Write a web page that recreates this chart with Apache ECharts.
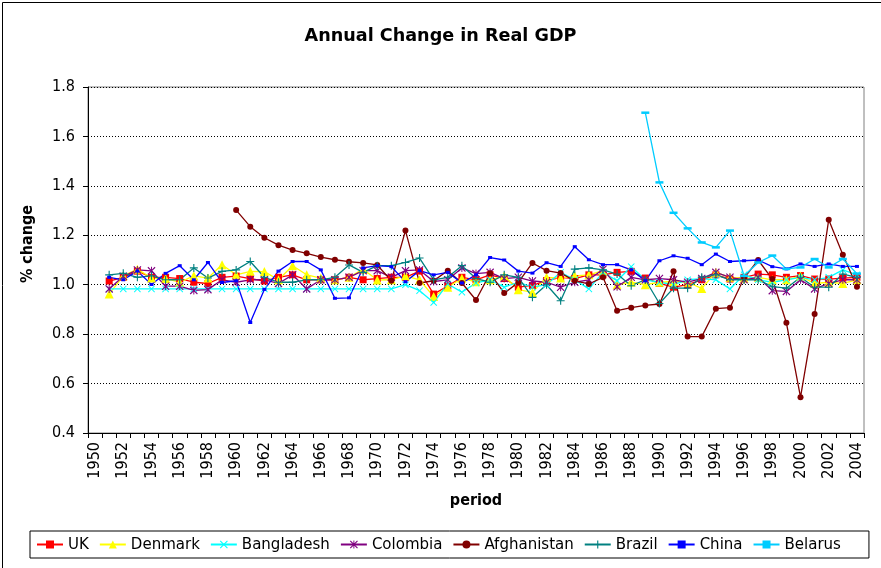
<!DOCTYPE html>
<html><head><meta charset="utf-8">
<script src="https://cdn.jsdelivr.net/npm/echarts@6/dist/echarts.min.js"></script>
<style>html,body{margin:0;padding:0;background:#fff}#c{width:881px;height:568px}</style>
</head><body><div id="c"></div>
<script>
const years = ['1950','1951','1952','1953','1954','1955','1956','1957','1958','1959',
'1960','1961','1962','1963','1964','1965','1966','1967','1968','1969',
'1970','1971','1972','1973','1974','1975','1976','1977','1978','1979',
'1980','1981','1982','1983','1984','1985','1986','1987','1988','1989',
'1990','1991','1992','1993','1994','1995','1996','1997','1998','1999',
'2000','2001','2002','2003','2004'];

const yTicks = { min: 0.4, max: 1.8, interval: 0.2 };

const uk = [null,
1.015,1.03,1.055,1.03,1.03,1.025,1.01,1.005,1.03,
1.035,1.025,1.015,1.03,1.04,1.02,1.02,1.02,1.03,1.02,
1.025,1.03,1.03,1.055,0.962,0.995,1.03,1.02,1.04,1.025,
0.99,0.997,1.017,1.03,1.025,1.04,1.04,1.05,1.054,1.027,
1.005,0.99,1.0,1.02,1.04,1.023,1.03,1.043,1.04,1.03,
1.037,1.023,1.023,1.027,1.03];

const denmark = [null,
0.962,1.036,1.063,1.027,1.025,1.01,1.036,1.027,1.081,
1.04,1.054,1.053,1.02,1.077,1.04,1.027,1.02,1.03,1.063,
1.019,1.02,1.036,1.02,0.952,0.99,1.026,1.012,1.02,1.035,
0.98,0.969,1.03,1.027,1.036,1.04,1.057,1.0,1.01,1.0,
1.01,1.013,1.01,0.985,1.05,1.03,1.026,1.03,1.02,1.02,
1.035,1.005,1.01,1.005,1.02];

const bangladesh = [null,
0.983,0.983,0.983,0.983,0.983,0.983,0.983,0.983,0.983,
0.983,0.983,0.983,0.983,0.983,0.983,0.983,0.983,0.983,0.983,
0.983,0.983,1.0,0.976,0.928,1.003,0.97,1.007,1.02,0.99,
1.01,0.99,1.0,1.05,1.02,0.983,1.05,1.016,1.073,1.02,
1.01,1.0,1.02,1.025,1.02,0.983,1.04,1.02,1.01,1.02,
1.03,1.02,1.03,1.06,1.04];

const colombia = [null,
0.983,1.034,1.06,1.056,0.994,0.994,0.977,0.98,1.02,
1.01,1.02,1.02,1.005,1.04,0.983,1.02,1.02,1.03,1.057,
1.057,1.03,1.057,1.06,1.013,1.02,1.068,1.045,1.05,1.025,
1.03,1.015,1.01,0.99,1.01,1.02,1.063,0.992,1.03,1.02,
1.025,1.02,1.01,1.025,1.05,1.03,1.02,1.03,0.976,0.973,
1.02,0.983,1.005,1.02,1.02];

const afghanistan = [null,null,null,null,null,null,null,null,null,null,
1.302,1.235,1.19,1.16,1.14,1.127,1.112,1.101,1.093,1.088,
1.08,1.016,1.219,1.007,1.016,1.057,1.007,0.938,1.046,0.966,
1.009,1.088,1.057,1.047,1.016,1.003,1.03,0.895,0.907,0.916,
0.922,1.054,0.79,0.79,0.903,0.907,1.027,1.1,1.023,0.846,
0.545,0.881,1.263,1.121,0.992];

const brazil = [null,
1.04,1.046,1.03,1.036,1.02,1.02,1.068,1.027,1.054,
1.06,1.094,1.03,1.01,1.01,1.02,1.02,1.03,1.08,1.05,
1.077,1.077,1.09,1.108,1.02,1.03,1.077,1.025,1.01,1.04,
1.03,0.949,1.0,0.935,1.063,1.068,1.06,1.043,0.996,1.02,
0.924,0.986,0.986,1.03,1.04,1.02,1.02,1.02,0.992,0.986,
1.03,0.99,0.99,1.043,1.03];

const china = [null,
1.03,1.02,1.055,1.001,1.046,1.077,1.02,1.09,1.009,
1.016,0.847,0.981,1.055,1.094,1.094,1.06,0.945,0.947,1.068,
1.077,1.073,1.012,1.057,1.04,1.05,1.007,1.04,1.11,1.10,
1.055,1.047,1.089,1.074,1.154,1.101,1.081,1.081,1.06,1.016,
1.097,1.117,1.107,1.081,1.124,1.094,1.097,1.1,1.073,1.064,
1.084,1.074,1.084,1.074,1.074];

const belarus = [null,null,null,null,null,null,null,null,null,null,
null,null,null,null,null,null,null,null,null,null,
null,null,null,null,null,null,null,null,null,null,
null,null,null,null,null,null,null,null,null,1.696,
1.414,1.291,1.228,1.171,1.151,1.219,1.036,1.09,1.118,1.064,
1.07,1.104,1.07,1.104,1.045];

const FONT = 'DejaVu Sans Condensed, DejaVu Sans, sans-serif';
const X_PATH = 'path://M0,1L1,0L5,4L9,0L10,1L6,5L10,9L9,10L5,6L1,10L0,9L4,5Z';
const PLUS_PATH = 'path://M4.3,0H5.7V4.3H10V5.7H5.7V10H4.3V5.7H0V4.3H4.3Z';
const STAR_PATH = 'path://M0,1L1,0L5,4L9,0L10,1L6,5L10,9L9,10L5,6L1,10L0,9L4,5ZM4.4,0H5.6V10H4.4Z';

function mk(name, data, color, symbol, size) {
  return {
    name, type: 'line', data, connectNulls: false,
    symbol, symbolSize: size, showSymbol: true,
    lineStyle: { color, width: 1.3 },
    itemStyle: { color, borderWidth: 0 },
    emphasis: { disabled: true },
    animation: false, z: 3
  };
}

const chart = echarts.init(document.getElementById('c'), null, { renderer: 'canvas' });
chart.setOption({
  animation: false,
  backgroundColor: '#fff',
  title: {
    text: 'Annual Change in Real GDP', left: 'center', top: 22,
    textStyle: { fontFamily: 'DejaVu Sans, sans-serif', fontWeight: 'bold', fontSize: 17.6, color: '#000' }
  },
  grid: { left: 88, right: 17, top: 87, bottom: 135, show: true, borderColor: '#808080', borderWidth: 1, backgroundColor: '#fff' },
  legend: {
    left: 30, top: 531, padding: [5, 28, 5, 6],
    borderColor: '#000', borderWidth: 1,
    itemWidth: 26, itemHeight: 10, itemGap: 10,
    textStyle: { fontFamily: FONT, fontSize: 16.7, color: '#000' },
    data: ['UK','Denmark','Bangladesh','Colombia','Afghanistan','Brazil','China','Belarus']
  },
  xAxis: {
    type: 'category', data: years, boundaryGap: true,
    name: 'period', nameLocation: 'middle', nameGap: 60,
    nameTextStyle: { fontFamily: FONT, fontWeight: 'bold', fontSize: 16, color: '#000' },
    axisLine: { lineStyle: { color: '#000', width: 1 } },
    axisTick: { show: true, interval: 0, length: 5, lineStyle: { color: '#000' } },
    axisLabel: { interval: 1, rotate: 90, fontFamily: FONT, fontSize: 16, color: '#000', margin: 9 },
    splitLine: { show: false }
  },
  yAxis: {
    type: 'value', min: yTicks.min, max: yTicks.max, interval: yTicks.interval,
    name: '% change', nameLocation: 'middle', nameGap: 52,
    nameTextStyle: { fontFamily: FONT, fontWeight: 'bold', fontSize: 16, color: '#000', padding: [0, 0, 0, 32] },
    axisLine: { show: true, lineStyle: { color: '#000', width: 1 } },
    axisTick: { show: true, length: 5, lineStyle: { color: '#000' } },
    axisLabel: { fontFamily: FONT, fontSize: 16, color: '#000', margin: 13, formatter: v => v.toFixed(1) },
    splitLine: { show: true, lineStyle: { color: '#000', type: [1, 2], width: 1 } }
  },
  series: [
    mk('UK', uk, '#FF0000', 'rect', 7),
    mk('Denmark', denmark, '#FFFF00', 'triangle', 9),
    mk('Bangladesh', bangladesh, '#00FFFF', X_PATH, 7),
    mk('Colombia', colombia, '#800080', STAR_PATH, 8),
    mk('Afghanistan', afghanistan, '#800000', 'circle', 6),
    mk('Brazil', brazil, '#008080', PLUS_PATH, 8),
    mk('China', china, '#0000FF', 'rect', [4, 3]),
    mk('Belarus', belarus, '#00CCFF', 'rect', [8, 2.5])
  ],
  graphic: [{
    type: 'rect', left: 0, top: 0, z: 100, silent: true,
    shape: { x: 0.5, y: 0.5, width: 879, height: 566 },
    style: { fill: 'none', stroke: '#000', lineWidth: 1 }
  }]
});
</script>
</body></html>
